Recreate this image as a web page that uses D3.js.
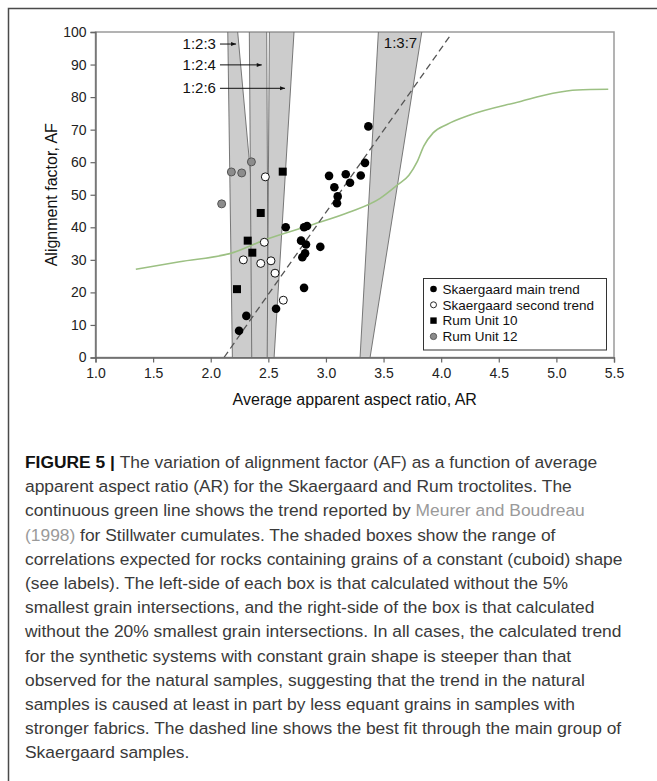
<!DOCTYPE html>
<html>
<head>
<meta charset="utf-8">
<script src="https://cdn.jsdelivr.net/npm/d3@7"></script>
<style>
  html, body { margin: 0; padding: 0; background: #fff; }
  svg { display: block; }
</style>
</head>
<body>
<svg id="chart" width="657" height="781"></svg>
<script>
// ---------------- DATA ----------------
const xTicks = [1.0, 1.5, 2.0, 2.5, 3.0, 3.5, 4.0, 4.5, 5.0, 5.5];
const yTicks = [0, 10, 20, 30, 40, 50, 60, 70, 80, 90, 100];

// Skaergaard main trend [AR, AF]
const skaerMain = [
  [3.368, 71.0], [3.339, 59.8], [3.027, 55.8], [3.172, 56.3], [3.302, 55.9],
  [3.209, 53.7], [3.073, 52.3], [3.102, 49.5], [3.096, 47.4], [2.651, 40.0],
  [2.810, 40.0], [2.836, 40.4], [2.784, 35.9], [2.827, 34.7], [2.951, 34.0],
  [2.819, 32.0], [2.795, 30.8], [2.810, 21.4], [2.567, 15.0], [2.309, 12.8],
  [2.246, 8.2]
];
// Skaergaard second trend
const skaerSecond = [
  [2.474, 55.5], [2.465, 35.4], [2.283, 30.0], [2.434, 28.9], [2.523, 29.7],
  [2.558, 25.9], [2.630, 17.6]
];
// Rum Unit 10
const rum10 = [
  [2.625, 57.1], [2.434, 44.4], [2.321, 35.9], [2.361, 32.2], [2.228, 21.0]
];
// Rum Unit 12
const rum12 = [
  [2.179, 57.0], [2.269, 56.7], [2.353, 60.1], [2.095, 47.2]
];

// Meurer & Boudreau (1998) Stillwater trend
const stillwater = [
  [1.35, 27.1], [1.73, 29.4], [2.20, 32.3], [2.46, 36.0], [2.90, 41.0],
  [3.20, 44.6], [3.47, 48.9], [3.62, 53.0], [3.72, 56.0], [3.79, 60.0],
  [3.85, 65.0], [3.93, 69.0], [4.05, 71.6], [4.25, 74.5], [4.68, 78.6],
  [4.97, 81.2], [5.18, 82.2], [5.45, 82.4]
];

// Best fit through main Skaergaard group (dashed)
const bestFit = [[2.115, 0], [4.08, 99]];

// Constant-shape boxes: AR of left/right sides at AF=100 (top) and AF=0 (bottom)
const boxLabels = ["1:2:3", "1:2:4", "1:2:6", "1:3:7"];
const boxTopLeft = [2.148, 2.335, 2.509, 3.455];
const boxTopRight = [2.234, 2.486, 2.723, 3.832];
const boxBottomLeft = [2.188, 2.356, 2.490, 3.296];
const boxBottomRight = [2.490, 2.500, 2.550, 3.383];

// Arrow labels: label anchor [AR, AF] and arrow tip [AR, AF]
const arrowLabels = ["1:2:3", "1:2:4", "1:2:6"];
const arrowFrom = [[2.063, 96.3], [2.063, 89.9], [2.063, 82.7]];
const arrowTo = [[2.22, 96.3], [2.443, 89.9], [2.645, 82.7]];
const insideLabel = { text: "1:3:7", at: [3.647, 96.5] };

const legendNames = ["Skaergaard main trend", "Skaergaard second trend", "Rum Unit 10", "Rum Unit 12"];

const xTitle = "Average apparent aspect ratio, AR";
const yTitle = "Alignment factor, AF";

// caption lines: segments [text, style]
const captionLines = [
  [["FIGURE 5 | ", "b"], ["The variation of alignment factor (AF) as a function of average", "n"]],
  [["apparent aspect ratio (AR) for the Skaergaard and Rum troctolites. The", "n"]],
  [["continuous green line shows the trend reported by ", "n"], ["Meurer and Boudreau", "g"]],
  [["(1998)", "g"], [" for Stillwater cumulates. The shaded boxes show the range of", "n"]],
  [["correlations expected for rocks containing grains of a constant (cuboid) shape", "n"]],
  [["(see labels). The left-side of each box is that calculated without the 5%", "n"]],
  [["smallest grain intersections, and the right-side of the box is that calculated", "n"]],
  [["without the 20% smallest grain intersections. In all cases, the calculated trend", "n"]],
  [["for the synthetic systems with constant grain shape is steeper than that", "n"]],
  [["observed for the natural samples, suggesting that the trend in the natural", "n"]],
  [["samples is caused at least in part by less equant grains in samples with", "n"]],
  [["stronger fabrics. The dashed line shows the best fit through the main group of", "n"]],
  [["Skaergaard samples.", "n"]]
];

// ---------------- DRAW ----------------
const svg = d3.select("#chart");
const font = "'Liberation Sans', Arial, Helvetica, sans-serif";

// outer frame (top + left)
svg.append("path")
  .attr("d", "M8.5,781 L8.5,8.5 L657,8.5")
  .attr("fill", "none").attr("stroke", "#4a4a4a").attr("stroke-width", 1.5);

const x = d3.scaleLinear().domain([1.0, 5.5]).range([95.5, 614]);
const y = d3.scaleLinear().domain([0, 100]).range([357.5, 32]);

const defs = svg.append("defs");
const clip = defs.append("clipPath").attr("id", "plotclip");
clip.append("rect").attr("x", x(1)).attr("y", y(100)).attr("width", x(5.5) - x(1)).attr("height", y(0) - y(100));

defs.append("marker").attr("id", "arrow")
  .attr("viewBox", "0 0 10 10").attr("refX", 10).attr("refY", 5)
  .attr("markerWidth", 6).attr("markerHeight", 5).attr("orient", "auto")
  .append("path").attr("d", "M0,1 L10,5 L0,9 Z").attr("fill", "#111");

// plot border (top/right)
svg.append("rect")
  .attr("x", x(1)).attr("y", y(100))
  .attr("width", x(5.5) - x(1)).attr("height", y(0) - y(100))
  .attr("fill", "none").attr("stroke", "#9a9a9a").attr("stroke-width", 1.5);

const plot = svg.append("g").attr("clip-path", "url(#plotclip)");

// boxes
boxLabels.forEach((lab, i) => {
  const pts = [
    [boxTopLeft[i], 100], [boxTopRight[i], 100],
    [boxBottomRight[i], 0], [boxBottomLeft[i], 0]
  ];
  plot.append("path")
    .attr("d", d3.line().x(d => x(d[0])).y(d => y(d[1]))(pts) + "Z")
    .attr("fill", "#cccccc").attr("stroke", "#6a6a6a").attr("stroke-width", 0.9);
});

// Stillwater trend
plot.append("path")
  .datum(stillwater)
  .attr("d", d3.line().x(d => x(d[0])).y(d => y(d[1])).curve(d3.curveMonotoneX))
  .attr("fill", "none").attr("stroke", "#9cc083").attr("stroke-width", 1.6);

// best fit dashed
plot.append("path")
  .datum(bestFit)
  .attr("d", d3.line().x(d => x(d[0])).y(d => y(d[1])))
  .attr("fill", "none").attr("stroke", "#555").attr("stroke-width", 1.3)
  .attr("stroke-dasharray", "7,4");

// axes
const yAxis = d3.axisLeft(y).tickValues(yTicks).tickSizeOuter(0).tickSize(5).tickPadding(4)
  .tickFormat(d3.format("d"));
const xAxis = d3.axisBottom(x).tickValues(xTicks).tickSizeOuter(0).tickSize(5).tickPadding(6)
  .tickFormat(d3.format(".1f"));

const gy = svg.append("g").attr("transform", `translate(${x(1)},0)`).call(yAxis);
const gx = svg.append("g").attr("transform", `translate(0,${y(0)})`).call(xAxis);
[gx, gy].forEach(g => {
  g.select(".domain").attr("stroke", "#666").attr("stroke-width", 1.3);
  g.selectAll(".tick line").attr("stroke", "#666").attr("stroke-width", 1.2);
  g.selectAll(".tick text").attr("fill", "#222").style("font-family", font).style("font-size", "14px");
});

// points
const pts = svg.append("g");
pts.selectAll("circle.main").data(skaerMain).join("circle")
  .attr("cx", d => x(d[0])).attr("cy", d => y(d[1])).attr("r", 4.3)
  .attr("fill", "#000");
pts.selectAll("circle.second").data(skaerSecond).join("circle")
  .attr("class", "second")
  .attr("cx", d => x(d[0])).attr("cy", d => y(d[1])).attr("r", 4)
  .attr("fill", "#fff").attr("stroke", "#111").attr("stroke-width", 1);
pts.selectAll("rect.r10").data(rum10).join("rect")
  .attr("class", "r10")
  .attr("x", d => x(d[0]) - 4).attr("y", d => y(d[1]) - 4)
  .attr("width", 8).attr("height", 8).attr("fill", "#000");
pts.selectAll("circle.r12").data(rum12).join("circle")
  .attr("class", "r12")
  .attr("cx", d => x(d[0])).attr("cy", d => y(d[1])).attr("r", 4)
  .attr("fill", "#8c8c8c").attr("stroke", "#555").attr("stroke-width", 1);

// arrow labels
arrowLabels.forEach((lab, i) => {
  svg.append("text")
    .attr("x", x(arrowFrom[i][0]) - 2).attr("y", y(arrowFrom[i][1]) + 5)
    .attr("text-anchor", "end")
    .style("font-family", font).style("font-size", "15px").attr("fill", "#111")
    .text(lab);
  svg.append("line")
    .attr("x1", x(arrowFrom[i][0]) + 2).attr("y1", y(arrowFrom[i][1]))
    .attr("x2", x(arrowTo[i][0])).attr("y2", y(arrowTo[i][1]))
    .attr("stroke", "#111").attr("stroke-width", 1)
    .attr("marker-end", "url(#arrow)");
});
svg.append("text")
  .attr("x", x(insideLabel.at[0])).attr("y", y(insideLabel.at[1]) + 5)
  .attr("text-anchor", "middle")
  .style("font-family", font).style("font-size", "15px").attr("fill", "#111")
  .text(insideLabel.text);

// legend
const lg = svg.append("g");
lg.append("rect").attr("x", 423.5).attr("y", 278.5).attr("width", 183).attr("height", 71.5)
  .attr("fill", "#fff").attr("stroke", "#333").attr("stroke-width", 1);
legendNames.forEach((name, i) => {
  const cy = 289 + i * 15.8;
  const sx = 433.5;
  if (i === 0) lg.append("circle").attr("cx", sx).attr("cy", cy).attr("r", 3.3).attr("fill", "#000");
  if (i === 1) lg.append("circle").attr("cx", sx).attr("cy", cy).attr("r", 3).attr("fill", "#fff").attr("stroke", "#111").attr("stroke-width", 0.9);
  if (i === 2) lg.append("rect").attr("x", sx - 3.2).attr("y", cy - 3.2).attr("width", 6.4).attr("height", 6.4).attr("fill", "#000");
  if (i === 3) lg.append("circle").attr("cx", sx).attr("cy", cy).attr("r", 3.2).attr("fill", "#8c8c8c").attr("stroke", "#555").attr("stroke-width", 0.9);
  lg.append("text").attr("x", 442.5).attr("y", cy + 4.8)
    .style("font-family", font).style("font-size", "13.5px").attr("fill", "#111")
    .text(name);
});

// axis titles
svg.append("text")
  .attr("x", (x(1) + x(5.5)) / 2).attr("y", 405)
  .attr("text-anchor", "middle")
  .style("font-family", font).style("font-size", "16px").attr("fill", "#111")
  .text(xTitle);
svg.append("text")
  .attr("transform", `translate(57,${(y(0) + y(100)) / 2}) rotate(-90)`)
  .attr("text-anchor", "middle")
  .style("font-family", font).style("font-size", "16px").attr("fill", "#111")
  .text(yTitle);

// caption
const cap = svg.append("g");
captionLines.forEach((segs, i) => {
  const t = cap.append("text")
    .attr("x", 25).attr("y", 468 + i * 24.2)
    .style("font-family", font).style("font-size", "17.4px");
  segs.forEach(([txt, st]) => {
    t.append("tspan")
      .attr("fill", st === "b" ? "#111" : (st === "g" ? "#9a9a9a" : "#3a3a3a"))
      .attr("font-weight", st === "b" ? "bold" : "normal")
      .text(txt);
  });
});
</script>
</body>
</html>
